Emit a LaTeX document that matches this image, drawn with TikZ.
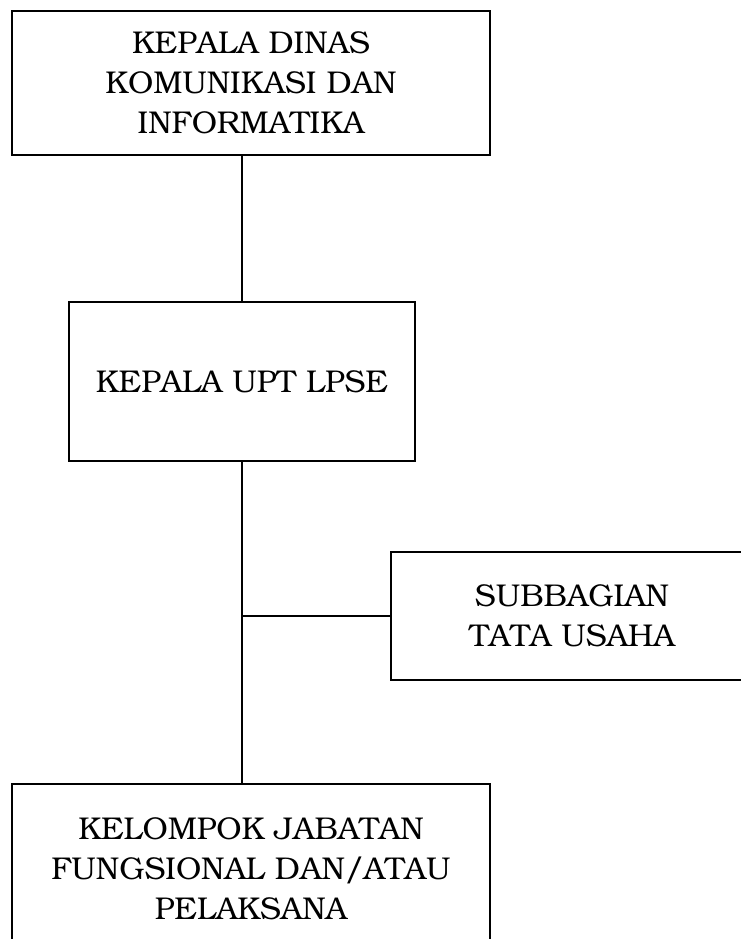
\documentclass[tikz,border=0pt]{standalone}
\usepackage[T1]{fontenc}
\usepackage{bookman}
\usetikzlibrary{positioning,calc}

\tikzset{
  unitbox/.style={draw, line width=2pt, align=center, inner sep=0pt,
    font=\fontsize{31.5}{40}\selectfont},
  link/.style={line width=2pt}
}

\begin{document}
\begin{tikzpicture}[x=1pt,y=-1pt]
  \useasboundingbox (0,0) rectangle (741,939);

  % Kepala Dinas (top box)
  \node[unitbox, minimum width=478pt, minimum height=144pt] (kadis) at (251,83)
    {KEPALA DINAS\\KOMUNIKASI DAN\\INFORMATIKA};

  % Kepala UPT
  \node[unitbox, minimum width=346pt, minimum height=159pt] (kaupt) at (242,381.5)
    {KEPALA UPT LPSE};

  % Subbagian (right, cut by the page edge)
  \node[unitbox, minimum width=362pt, minimum height=128pt] (subbag) at (572,616)
    {SUBBAGIAN\\TATA USAHA};

  % Kelompok jabatan (bottom, cut by the page edge)
  \node[unitbox, minimum width=478pt, minimum height=170pt] (jabfung) at (251,869)
    {KELOMPOK JABATAN\\FUNGSIONAL DAN/ATAU\\PELAKSANA};

  % Connectors
  \draw[link] (kaupt.north |- kadis.south) -- (kaupt.north);
  \draw[link] (kaupt.south) -- (kaupt.south |- jabfung.north);
  \draw[link] (kaupt.south |- subbag.west) -- (subbag.west);
\end{tikzpicture}
\end{document}
